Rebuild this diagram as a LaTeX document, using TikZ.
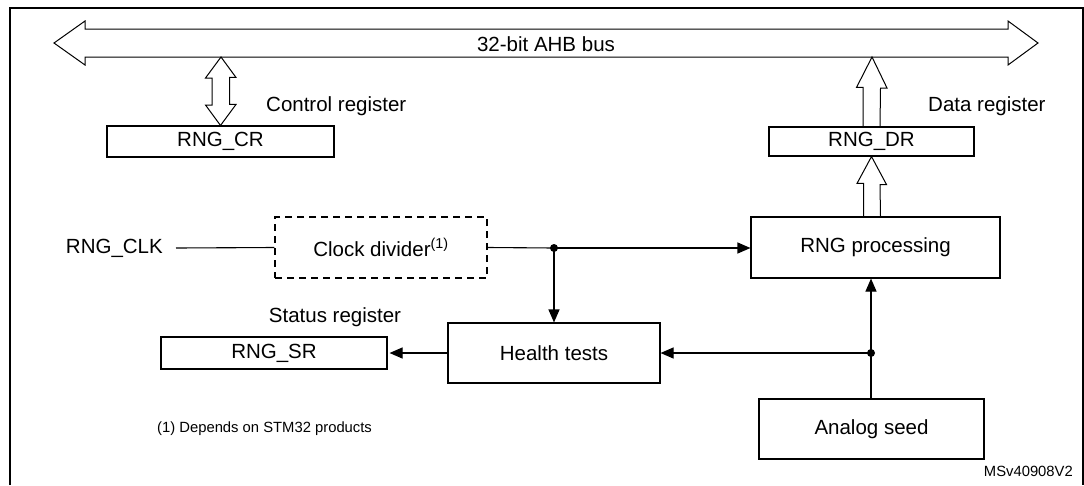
\documentclass[tikz,border=0pt]{standalone}
\usepackage{fontspec}
\setmainfont{Liberation Sans}
\usetikzlibrary{arrows.meta}
\begin{document}
\begin{tikzpicture}[x=1pt,y=-1pt,
  blk/.style={draw,line width=1.1pt,inner sep=0pt,font=\fontsize{20.5}{24}\selectfont},
  lbl/.style={inner sep=0pt,font=\fontsize{20.5}{24}\selectfont},
  small/.style={inner sep=0pt,font=\fontsize{14.8}{17}\selectfont},
  arr/.style={line width=1.1pt,-{Triangle[length=13pt,width=11pt]}},
  wire/.style={line width=1.1pt},
  fat/.style={line width=1pt,line join=miter}]
\useasboundingbox (0,0) rectangle (1084,485);
% frame
\draw[line width=2pt] (9.5,485) -- (9.5,8) -- (1083,8) -- (1083,485);
% AHB bus
\draw[fat] (54,43) -- (85,21) -- (85,29) -- (1008,29) -- (1008,21) -- (1038,43)
  -- (1008,65) -- (1008,57) -- (85,57) -- (85,65) -- cycle;
\node[lbl] (bus) at (546,44) {32-bit AHB bus};
% registers
\node[blk,minimum width=227pt,minimum height=31pt] (cr) at (220.5,141.5) {RNG\_CR};
\node[blk,minimum width=205pt,minimum height=29pt] (dr) at (871.5,141.5) {RNG\_DR};
\node[blk,minimum width=226pt,minimum height=32pt] (sr) at (274,353) {RNG\_SR};
\node[lbl,anchor=west] (crl) at (266,106) {Control register};
\node[lbl,anchor=west] (drl) at (928,106) {Data register};
\node[lbl] (srl) at (335,317) {Status register};
% blocks
\node[blk,dashed,dash pattern=on 7pt off 5pt,minimum width=212pt,minimum height=61pt] (cd) at (381,247.5) {Clock divider\textsuperscript{(1)}};
\node[blk,minimum width=249pt,minimum height=61pt] (proc) at (875.5,247.5) {RNG processing};
\node[blk,minimum width=212pt,minimum height=60pt] (ht) at (554,353) {Health tests};
\node[blk,minimum width=225pt,minimum height=60pt] (seed) at (871.5,429) {Analog seed};
\node[lbl,anchor=east,inner xsep=13pt] (clk) at (176,248) {RNG\_CLK};
% control register double arrow
\draw[fat] (cr.north) -- ++(15.5,-21) -- ++(-6.5,0) -- ++(0,-27) -- ++(6.5,0)
  -- (221,57) -- ++(-15.5,21) -- ++(6.5,0) -- ++(0,27) -- ++(-6.5,0) -- cycle;
% data register arrows
\draw[fat] ([xshift=-8.5pt]dr.north) -- ++(0,-39) -- ++(-6.5,0) -- (872,57) -- ++(15,31)
  -- ++(-6.5,0) -- ([xshift=8.5pt]dr.north);
\draw[fat] ([xshift=-12pt]proc.north) -- ++(0,-33) -- ++(-6.5,0) -- (dr.south) -- ++(15,28)
  -- ++(-6.5,0) -- ([xshift=5pt]proc.north);
% signals
\coordinate (j1) at (554,248);
\coordinate (j2) at (871,353);
\draw[wire] (clk.east) -- (cd.west);
\draw[wire] (cd.east) -- (j1);
\draw[arr] (j1) -- (proc.west |- j1);
\draw[arr] (j1) -- (ht.north);
\draw[arr] (seed.north -| j2) -- (proc.south -| j2);
\draw[arr] (j2) -- (ht.east |- j2);
\draw[arr] (ht.west) -- ([xshift=2pt]sr.east);
\fill (j1) circle (4pt);
\fill (j2) circle (4pt);
% notes
\node[small,anchor=west] (fn) at (157,429) {(1) Depends on STM32 products};
\node[small,anchor=east] (id) at (1073,471) {MSv40908V2};
\end{tikzpicture}
\end{document}
